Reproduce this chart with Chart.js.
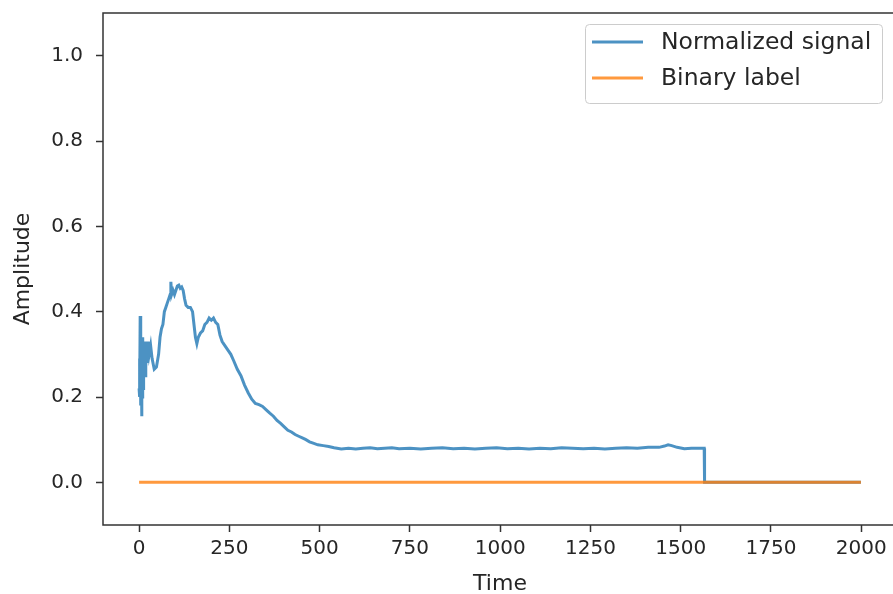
<!DOCTYPE html>
<html>
<head>
<meta charset="utf-8">
<script src="https://cdn.jsdelivr.net/npm/chart.js@4"></script>
<style>
  html, body { margin: 0; padding: 0; background: #fff; overflow: hidden; }
  #wrap { position: relative; width: 900px; height: 594px; }
</style>
</head>
<body>
<div id="wrap"><canvas id="chart" width="900" height="594"></canvas></div>
<script>
// series names / axis ticks
const seriesNames = ['Normalized signal', 'Binary label'];
const xTicks = [0, 250, 500, 750, 1000, 1250, 1500, 1750, 2000];
const yTicks = [0.0, 0.2, 0.4, 0.6, 0.8, 1.0];

// normalized signal
const signalTime = [
    0, 1, 2, 3, 4, 5, 6, 7, 8, 9, 10, 11, 12, 13, 14, 15, 16, 17, 18, 19,
    20, 22, 25, 28, 32, 36, 42, 48, 54, 58, 62, 66, 70, 74, 78, 82, 86, 88, 90, 94,
    98, 102, 106, 110, 114, 118, 122, 126, 130, 136, 142, 148, 152, 156, 160, 164, 170, 176, 182, 188,
    194, 200, 206, 212, 218, 224, 230, 238, 246, 254, 262, 272, 282, 292, 302, 312, 322, 332, 342, 352,
    362, 372, 382, 392, 402, 412, 422, 432, 442, 452, 462, 472, 482, 495, 510, 525, 540, 560, 580, 600,
    620, 640, 660, 680, 700, 720, 750, 780, 810, 840, 870, 900, 930, 960, 990, 1020, 1050, 1080, 1110, 1140,
    1170, 1200, 1230, 1260, 1290, 1320, 1350, 1380, 1410, 1440, 1455, 1465, 1475, 1490, 1510, 1530, 1550, 1565, 1566, 1999
];
const signalValue = [
    0.22, 0.29, 0.20, 0.39, 0.25, 0.18, 0.30, 0.155, 0.26, 0.20, 0.34, 0.22, 0.30, 0.24, 0.33, 0.26, 0.31, 0.25, 0.32, 0.27,
    0.33, 0.28, 0.33, 0.30, 0.32, 0.29, 0.265, 0.27, 0.30, 0.34, 0.36, 0.37, 0.40, 0.41, 0.42, 0.43, 0.44, 0.47, 0.44, 0.45,
    0.44, 0.45, 0.46, 0.462, 0.455, 0.458, 0.45, 0.43, 0.415, 0.41, 0.41, 0.40, 0.37, 0.34, 0.325, 0.34, 0.35, 0.355, 0.37, 0.375,
    0.385, 0.38, 0.385, 0.375, 0.37, 0.345, 0.33, 0.32, 0.31, 0.30, 0.285, 0.265, 0.25, 0.228, 0.21, 0.195, 0.185, 0.182, 0.178, 0.17,
    0.162, 0.155, 0.145, 0.138, 0.13, 0.122, 0.118, 0.112, 0.108, 0.104, 0.10, 0.095, 0.092, 0.088, 0.086, 0.084, 0.081, 0.078, 0.080, 0.078,
    0.080, 0.081, 0.079, 0.080, 0.081, 0.079, 0.080, 0.078, 0.080, 0.081, 0.079, 0.080, 0.078, 0.080, 0.081, 0.079, 0.080, 0.078, 0.080, 0.079,
    0.081, 0.080, 0.079, 0.080, 0.078, 0.080, 0.081, 0.080, 0.082, 0.082, 0.085, 0.088, 0.086, 0.082, 0.079, 0.080, 0.080, 0.080, 0.0, 0.0
];

// binary label
const labelTime = [0, 1999];
const labelValue = [0, 0];

const textColor = '#262626';
const tickFont = { family: "'DejaVu Sans', sans-serif", size: 20 };
const titleFont = { family: "'DejaVu Sans', sans-serif", size: 22 };
const colors = ['rgba(31, 119, 180, 0.8)', 'rgba(255, 127, 14, 0.8)'];

// axes box on all four sides, like matplotlib spines
const framePlugin = {
    id: 'frame',
    afterDatasetsDraw(chart) {
        const { ctx, chartArea: a } = chart;
        ctx.save();
        ctx.strokeStyle = '#333';
        ctx.lineWidth = 1.5;
        ctx.strokeRect(a.left, a.top, a.right - a.left, a.bottom - a.top);
        ctx.restore();
    }
};

// legend box in the upper right corner
const boxLegend = {
    id: 'boxLegend',
    afterDraw(chart) {
        const { ctx } = chart;
        const x = 585.5, y = 24.5, w = 297, h = 79;
        ctx.save();
        ctx.beginPath();
        ctx.roundRect(x, y, w, h, 4);
        ctx.fillStyle = 'rgba(255,255,255,0.8)';
        ctx.fill();
        ctx.strokeStyle = '#cccccc';
        ctx.lineWidth = 1;
        ctx.stroke();
        ctx.font = "23.5px 'DejaVu Sans', sans-serif";
        ctx.textBaseline = 'middle';
        chart.data.datasets.forEach((ds, i) => {
            const ly = 42 + i * 36;
            ctx.strokeStyle = ds.borderColor;
            ctx.lineWidth = 3;
            ctx.beginPath();
            ctx.moveTo(592, ly);
            ctx.lineTo(643, ly);
            ctx.stroke();
            ctx.fillStyle = textColor;
            ctx.fillText(ds.label, 661, ly + 1);
        });
        ctx.restore();
    }
};

new Chart(document.getElementById('chart'), {
    type: 'line',
    data: {
        datasets: [
            {
                label: seriesNames[0],
                data: signalTime.map((t, i) => ({ x: t, y: signalValue[i] })),
                borderColor: colors[0],
                borderWidth: 3,
                pointRadius: 0,
                tension: 0,
                order: 1
            },
            {
                label: seriesNames[1],
                data: labelTime.map((t, i) => ({ x: t, y: labelValue[i] })),
                borderColor: colors[1],
                borderWidth: 3,
                pointRadius: 0,
                tension: 0,
                order: 0
            }
        ]
    },
    options: {
        responsive: false,
        animation: false,
        layout: { padding: { top: 13, right: 3, left: 0, bottom: 0 } },
        plugins: {
            legend: { display: false },
            tooltip: { enabled: false }
        },
        scales: {
            x: {
                type: 'linear',
                min: -99.95,
                max: 2098.95,
                afterBuildTicks: (s) => { s.ticks = xTicks.map(v => ({ value: v })); },
                afterFit: (s) => { s.height = 69; s.paddingLeft = 0; s.paddingRight = 0; },
                ticks: {
                    color: textColor,
                    font: tickFont,
                    padding: 5,
                    maxRotation: 0,
                    callback: (v) => String(v)
                },
                grid: { drawOnChartArea: false, tickLength: 7, tickColor: '#333', tickWidth: 1.5 },
                border: { display: false },
                title: {
                    display: true,
                    text: 'Time',
                    color: textColor,
                    font: titleFont,
                    padding: { top: 0, bottom: -3 }
                }
            },
            y: {
                type: 'linear',
                min: -0.1,
                max: 1.1,
                afterBuildTicks: (s) => { s.ticks = yTicks.map(v => ({ value: v })); },
                afterFit: (s) => { s.width = 103; s.paddingTop = 0; s.paddingBottom = 0; },
                ticks: {
                    color: textColor,
                    font: tickFont,
                    padding: 13,
                    callback: (v) => v.toFixed(1)
                },
                grid: { drawOnChartArea: false, tickLength: 7, tickColor: '#333', tickWidth: 1.5 },
                border: { display: false },
                title: {
                    display: true,
                    text: 'Amplitude',
                    color: textColor,
                    font: titleFont,
                    padding: { top: 10, bottom: 0 }
                }
            }
        }
    },
    plugins: [framePlugin, boxLegend]
});
</script>
</body>
</html>
